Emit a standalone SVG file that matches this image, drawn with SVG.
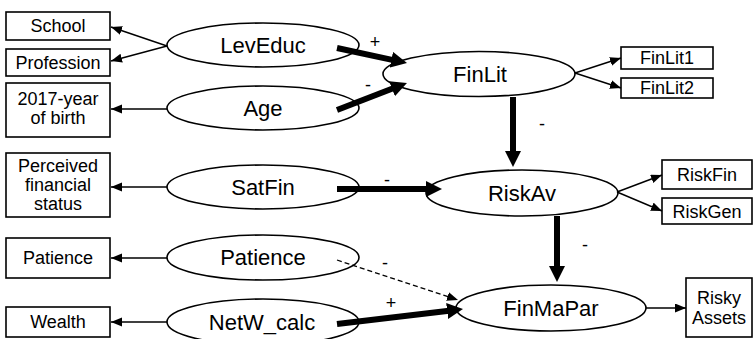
<svg xmlns="http://www.w3.org/2000/svg" width="754" height="339" viewBox="0 0 754 339">
  <style>
    .box { fill: #fff; stroke: #000; stroke-width: 1.6; }
    .ell { fill: #fff; stroke: #000; stroke-width: 1.6; }
    .bt { font-family: "Liberation Sans", Arial, sans-serif; font-size: 18px; text-anchor: middle; fill: #000; }
    .et { font-family: "Liberation Sans", Arial, sans-serif; font-size: 22px; text-anchor: middle; fill: #000; }
    .sign { font-family: "Liberation Sans", Arial, sans-serif; font-size: 18px; text-anchor: middle; fill: #000; }
    .thin { stroke: #000; stroke-width: 1.4; fill: none; marker-end: url(#thinHead); }
    .thick { stroke: #000; stroke-width: 6; fill: none; marker-end: url(#thickHead); }
    .dash { stroke: #000; stroke-width: 1.3; fill: none; stroke-dasharray: 5 3; marker-end: url(#thinHead); }
  </style>
  <defs>
    <marker id="thinHead" markerUnits="userSpaceOnUse" markerWidth="12" markerHeight="10" refX="11" refY="4.5" orient="auto">
      <path d="M0,0 L11,4.5 L0,9 z" fill="#000"/>
    </marker>
    <marker id="thickHead" markerUnits="userSpaceOnUse" markerWidth="17" markerHeight="17" refX="2" refY="8" orient="auto">
      <path d="M0,0 L16,8 L0,16 z" fill="#000"/>
    </marker>
  </defs>

  <!-- indicator boxes -->
  <g id="School"><rect class="box" x="6" y="12" width="104" height="28"/><text class="bt" x="58" y="32">School</text></g>
  <g id="Profession"><rect class="box" x="6" y="49" width="104" height="27"/><text class="bt" x="58" y="69">Profession</text></g>
  <g id="YearOfBirth"><rect class="box" x="6" y="83" width="104" height="54"/><text class="bt" x="58" y="105">2017-year</text><text class="bt" x="58" y="124">of birth</text></g>
  <g id="Perceived"><rect class="box" x="6" y="153" width="104" height="64"/><text class="bt" x="58" y="172">Perceived</text><text class="bt" x="58" y="191">financial</text><text class="bt" x="58" y="210">status</text></g>
  <g id="PatienceBox"><rect class="box" x="6" y="238" width="104" height="40"/><text class="bt" x="58" y="264">Patience</text></g>
  <g id="Wealth"><rect class="box" x="6" y="307" width="104" height="30"/><text class="bt" x="58" y="328">Wealth</text></g>
  <g id="FinLit1"><rect class="box" x="621" y="47" width="92" height="22"/><text class="bt" x="667" y="64">FinLit1</text></g>
  <g id="FinLit2"><rect class="box" x="621" y="78" width="92" height="20"/><text class="bt" x="667" y="94">FinLit2</text></g>
  <g id="RiskFin"><rect class="box" x="662" y="160" width="90" height="29"/><text class="bt" x="707" y="181">RiskFin</text></g>
  <g id="RiskGen"><rect class="box" x="662" y="198" width="90" height="26"/><text class="bt" x="707" y="218">RiskGen</text></g>
  <g id="RiskyAssets"><rect class="box" x="686" y="278" width="66" height="59"/><text class="bt" x="719" y="304">Risky</text><text class="bt" x="719" y="324">Assets</text></g>

  <!-- latent constructs -->
  <g id="LevEduc"><ellipse class="ell" cx="263" cy="45" rx="96" ry="22"/><text class="et" x="263" y="53">LevEduc</text></g>
  <g id="Age"><ellipse class="ell" cx="263" cy="108" rx="96" ry="22"/><text class="et" x="263" y="116">Age</text></g>
  <g id="FinLit"><ellipse class="ell" cx="479" cy="74" rx="96" ry="22.5"/><text class="et" x="480" y="82">FinLit</text></g>
  <g id="SatFin"><ellipse class="ell" cx="263" cy="187" rx="96" ry="22"/><text class="et" x="263" y="195">SatFin</text></g>
  <g id="RiskAv"><ellipse class="ell" cx="522" cy="193" rx="96" ry="23"/><text class="et" x="522" y="201">RiskAv</text></g>
  <g id="Patience"><ellipse class="ell" cx="263" cy="257.5" rx="96" ry="22.5"/><text class="et" x="263" y="265">Patience</text></g>
  <g id="NetW_calc"><ellipse class="ell" cx="263" cy="322" rx="96" ry="23"/><text class="et" x="262" y="330">NetW_calc</text></g>
  <g id="FinMaPar"><ellipse class="ell" cx="551" cy="308" rx="95" ry="23"/><text class="et" x="551" y="316">FinMaPar</text></g>

  <!-- connectors -->
  <g id="connectors">
    <line class="thin" x1="167" y1="46" x2="111" y2="27"/>
    <line class="thin" x1="167" y1="46" x2="111" y2="61"/>
    <line class="thin" x1="167" y1="109" x2="111" y2="109"/>
    <line class="thin" x1="167" y1="187" x2="111" y2="187"/>
    <line class="thin" x1="167" y1="258" x2="111" y2="258"/>
    <line class="thin" x1="167" y1="322" x2="111" y2="322"/>
    <line class="thin" x1="575" y1="73" x2="621" y2="58"/>
    <line class="thin" x1="575" y1="73" x2="621" y2="88"/>
    <line class="thin" x1="617" y1="192" x2="662" y2="175"/>
    <line class="thin" x1="617" y1="192" x2="662" y2="211"/>
    <line class="thin" x1="646" y1="308" x2="686" y2="308"/>

    <line class="thick" x1="337" y1="48" x2="393.3" y2="60.1"/>
    <line class="thick" x1="337" y1="110" x2="393.9" y2="88"/>
    <line class="thick" x1="337" y1="189" x2="428" y2="189"/>
    <line class="thick" x1="513" y1="97" x2="513" y2="153"/>
    <line class="thick" x1="557" y1="216" x2="557" y2="268"/>
    <line class="thick" x1="337" y1="324" x2="449.1" y2="310.7"/>
    <line class="dash" x1="337" y1="260" x2="458" y2="300"/>

    <text class="sign" x="375" y="48">+</text>
    <text class="sign" x="368" y="91">-</text>
    <text class="sign" x="387" y="186">-</text>
    <text class="sign" x="542" y="130">-</text>
    <text class="sign" x="585" y="251">-</text>
    <text class="sign" x="385" y="269">-</text>
    <text class="sign" x="391" y="309">+</text>
  </g>
</svg>
